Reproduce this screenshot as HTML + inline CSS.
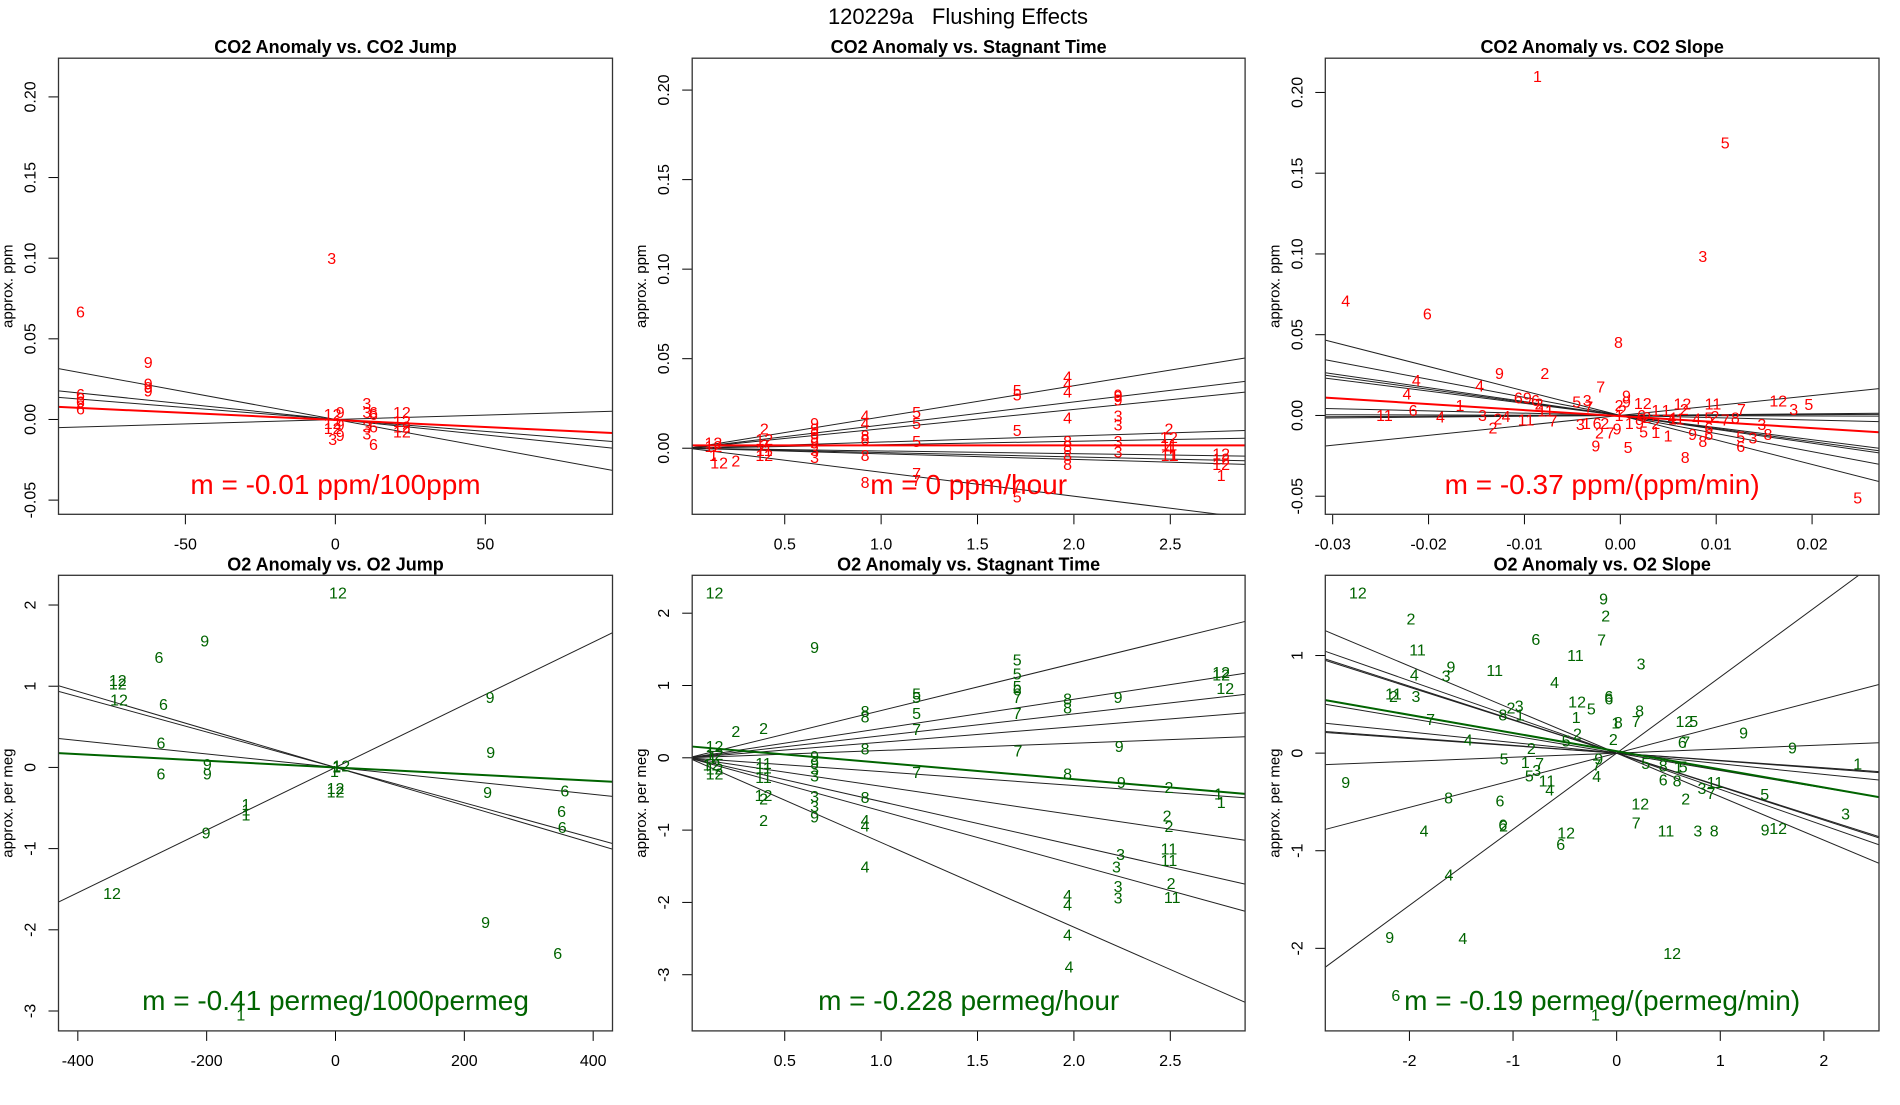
<!DOCTYPE html>
<html><head><meta charset="utf-8"><style>
html,body{margin:0;padding:0;background:#fff;}
svg text{font-family:"Liberation Sans",Arial,sans-serif;}
</style></head><body>
<svg id="chart" width="1900" height="1100" viewBox="0 0 1900 1100" xmlns="http://www.w3.org/2000/svg">
<rect width="1900" height="1100" fill="#fff"/>
<text x="958" y="24" font-size="22" text-anchor="middle" xml:space="preserve" style="white-space:pre">120229a   Flushing Effects</text>
</svg>
<script>
// ---------- Panel 1: CO2 Anomaly vs CO2 Jump ----------
const p1Labels=["6","3","9","9","9","9","6","6","6","6","12","9","12","9","12","3","9","3","3","6","6","3","6","3","6","12","12","12","12"];
const p1X=[-85,-1.2,-62.4,-62.4,-62.4,-62.4,-85,-85,-85,-85,-0.9,1.6,-0.9,1.6,-0.9,-0.9,1.6,10.5,10.5,12.7,12.7,10.5,12.7,10.5,12.7,22.2,22.2,22.2,22.2];
const p1Y=[0.0669,0.100,0.0354,0.0221,0.020,0.0177,0.0155,0.0133,0.0111,0.0066,0.0033,0.0045,-0.0022,-0.0033,-0.0055,-0.0122,-0.0099,0.010,0.0045,0.0045,0.0033,-0.0044,-0.0044,-0.0088,-0.0155,0.0045,-0.001,-0.0044,-0.0077];
const p1Slopes=[0.0000552,-0.000148,-0.000192,-0.000342];
const p1Fit=[-0.0003,-0.0000875];
const p1XTicks=[-50,0,50];
const p1YTicks=[-0.05,0,0.05,0.10,0.15,0.20];
const p1YTickLabels=["-0.05","0.00","0.05","0.10","0.15","0.20"];

// ---------- Panel 2: CO2 Anomaly vs Stagnant Time ----------
const p2Labels=["12","12","12","1","2","2","12","2","11","12","9","9","9","9","9","3","3","4","4","8","8","8","8","5","5","5","7","7","5","5","5","7","5","4","4","4","4","8","8","8","8","9","9","9","3","3","3","3","2","12","11","4","11","1","12","12","12","1"];
const p2X=[0.13,0.13,0.16,0.13,0.246,0.394,0.394,0.394,0.394,0.394,0.655,0.655,0.655,0.655,0.655,0.655,0.655,0.917,0.917,0.917,0.917,0.917,0.917,1.184,1.184,1.184,1.184,1.184,1.706,1.706,1.706,1.706,1.706,1.967,1.967,1.967,1.967,1.967,1.967,1.967,1.967,2.229,2.229,2.229,2.229,2.229,2.229,2.229,2.493,2.493,2.493,2.493,2.493,2.52,2.764,2.764,2.764,2.764];
const p2Y=[0.003,0.001,-0.008,-0.004,-0.007,0.011,0.005,0.002,-0.001,-0.004,0.014,0.011,0.008,0.006,0.003,-0.001,-0.005,0.018,0.014,0.007,0.005,-0.004,-0.019,0.020,0.014,0.004,-0.014,-0.018,0.0325,0.030,0.010,-0.021,-0.027,0.040,0.036,0.0315,0.017,0.004,0.001,-0.004,-0.009,0.030,0.029,0.027,0.018,0.013,0.004,-0.002,0.011,0.006,0.002,0,-0.004,-0.004,-0.003,-0.006,-0.009,-0.015];
const p2Slopes=[0.01745,0.01292,0.01084,0.00343,0.00194,-0.00152,-0.00242,-0.00312,-0.0134];
const p2Fit=[0.0016,0];
const p2XTicks=[0.5,1.0,1.5,2.0,2.5];
const p2XTickLabels=["0.5","1.0","1.5","2.0","2.5"];
const p2YTicks=[0,0.05,0.10,0.15,0.20];
const p2YTickLabels=["0.00","0.05","0.10","0.15","0.20"];

// ---------- Panel 3: CO2 Anomaly vs CO2 Slope ----------
const p3Labels=["1","5","3","4","6","8","9","2","4","4","7","4","6","9","6","2","5","3","7","1","6","11","3","4","4","2","11","11","7","2","3","1","6","2","2","7","9","9","5","5","9","9","2","2","12","1","6","2","1","9","1","1","4","12","2","11","1","1","2","4","5","11","2","7","8","7","9","8","6","6","12","3","5","3","8","5","3","6","8","5"];
const p3X=[-0.00864,0.01094,0.0086,-0.02864,-0.02013,-0.0002,-0.0126,-0.00787,-0.02128,-0.01468,-0.00204,-0.02225,-0.01064,-0.0097,-0.00885,-0.00847,-0.00455,-0.00345,-0.00328,-0.01672,-0.02162,-0.0246,-0.01438,-0.01876,-0.01191,-0.01277,-0.00983,-0.00779,-0.00702,-0.01328,-0.00417,-0.00353,-0.00243,-0.00162,-0.00217,-0.00106,-0.00034,-0.00255,0.00081,0.00243,0.00064,0.00064,-0.00013,0.00021,0.00234,-0.00013,0.00221,0.00277,0.00094,0.002,0.0037,0.00477,0.0054,0.00647,0.00668,0.00583,0.0037,0.00498,0.0037,0.00796,0.00923,0.00966,0.00987,0.01094,0.012,0.01264,0.00753,0.0086,0.00923,0.00923,0.01647,0.01808,0.01966,0.01476,0.0154,0.01255,0.01383,0.01255,0.00677,0.02476];
const p3Y=[0.2101,0.1688,0.0987,0.0710,0.0630,0.0453,0.0261,0.0261,0.0217,0.0184,0.0179,0.0133,0.0111,0.0111,0.0095,0.0073,0.0084,0.0095,0.0055,0.0062,0.0033,0.0002,0,-0.0009,-0.0004,-0.002,-0.0027,0.0029,-0.0033,-0.0077,-0.0055,-0.0049,-0.0049,-0.0049,-0.0108,-0.0108,-0.0082,-0.0188,-0.0197,-0.01,0.0122,0.0084,0.0062,0.0029,0.0077,0.0002,0.0002,-0.0011,-0.0049,-0.0049,0.0033,0.0033,-0.0015,0.0073,0.004,-0.002,-0.0104,-0.0126,-0.0049,-0.002,-0.0015,0.0073,-0.0004,-0.0027,-0.0015,0.004,-0.0115,-0.0159,-0.0077,-0.0115,0.0091,0.004,0.0069,-0.0055,-0.0115,-0.0131,-0.0137,-0.0192,-0.0259,-0.0509];
const p3Slopes=[0.615,0.052,0.026,-0.015,-0.141,-0.752,-0.81,-0.86,-1.12,-1.516];
const p3Fit=[-0.0004,-0.372];
const p3XTicks=[-0.03,-0.02,-0.01,0,0.01,0.02];
const p3XTickLabels=["-0.03","-0.02","-0.01","0.00","0.01","0.02"];
const p3YTicks=[-0.05,0,0.05,0.10,0.15,0.20];
const p3YTickLabels=["-0.05","0.00","0.05","0.10","0.15","0.20"];

// ---------- Panel 4: O2 Anomaly vs O2 Jump ----------
const p4Labels=["12","9","6","12","12","12","6","9","6","9","9","9","6","1","12","1","12","12","1","1","1","9","6","6","6","9","12","9","6","1"];
const p4X=[3.8,-203,-274,-338,-338,-336,-267,240,-271,241,-199,-199,-271,1.7,9,-1.7,0,0,-139,-139,-139,236,356,351,352,-201,-347,233,345,-147];
const p4Y=[2.150,1.557,1.359,1.073,1.029,0.831,0.778,0.866,0.303,0.185,0.040,-0.079,-0.079,0.009,0.022,-0.048,-0.255,-0.299,-0.453,-0.519,-0.585,-0.308,-0.290,-0.541,-0.739,-0.805,-1.552,-1.904,-2.291,-3.047];
const p4Slopes=[0.003857,-0.000828,-0.00218,-0.00234];
const p4Fit=[0,-0.00041];
const p4XTicks=[-400,-200,0,200,400];
const p4YTicks=[-3,-2,-1,0,1,2];

// ---------- Panel 5: O2 Anomaly vs Stagnant Time ----------
const p5Labels=["12","9","5","5","5","6","7","7","5","5","5","7","7","8","8","8","8","4","4","4","2","2","2","12","2","12","12","12","12","12","1","11","11","11","9","9","3","3","3","3","9","7","8","8","8","4","4","4","4","9","9","9","3","3","3","3","2","2","2","11","11","2","11","12","12","12","1","1"];
const p5X=[0.136,0.655,1.706,1.706,1.706,1.706,1.706,1.706,1.184,1.184,1.184,1.184,1.184,0.917,0.917,0.917,0.917,0.917,0.917,0.917,0.246,0.39,0.39,0.39,0.39,0.136,0.136,0.12,0.136,0.136,0.125,0.39,0.39,0.39,0.655,0.655,0.655,0.655,0.655,0.655,0.655,1.71,1.967,1.967,1.967,1.967,1.967,1.967,1.975,2.229,2.235,2.246,2.242,2.221,2.229,2.229,2.493,2.483,2.493,2.493,2.493,2.504,2.51,2.764,2.764,2.785,2.75,2.764];
const p5Y=[2.281,1.531,1.358,1.160,0.988,0.938,0.839,0.617,0.889,0.839,0.617,0.395,-0.198,0.642,0.568,0.123,-0.543,-0.864,-0.938,-1.506,0.370,0.410,-0.864,-0.518,-0.568,0.158,0.049,-0.099,-0.148,-0.222,0,-0.074,-0.138,-0.272,0.025,-0.074,-0.148,-0.247,-0.533,-0.667,-0.815,0.099,0.815,0.691,-0.222,-1.901,-2.035,-2.444,-2.889,0.839,0.158,-0.336,-1.333,-1.506,-1.778,-1.936,-0.405,-0.800,-0.948,-1.259,-1.417,-1.738,-1.926,1.185,1.146,0.963,-0.494,-0.617];
const p5Slopes=[0.653,0.405,0.304,0.2154,0.1008,-0.1915,-0.395,-0.605,-0.735,-1.171];
const p5Fit=[0.16,-0.228];
const p5YTicks=[-3,-2,-1,0,1,2];

// ---------- Panel 6: O2 Anomaly vs O2 Slope ----------
const p6Labels=["12","2","9","2","6","7","11","11","3","9","11","4","3","4","11","2","3","6","6","12","3","2","8","1","5","8","7","1","8","1","7","12","5","9","2","2","4","5","6","7","2","9","5","1","7","9","7","5","8","1","5","1","9","3","5","11","4","6","8","4","11","3","7","5","8","6","12","2","3","6","2","7","4","11","3","8","9","12","12","6","4","9","4","12","6","1"];
const p6X=[-2.497,-1.985,-0.126,-0.106,-0.780,-0.146,-1.922,-0.398,0.236,-1.599,-1.177,-1.953,-1.646,-0.599,-2.154,-2.154,-1.937,-0.075,-0.075,-0.382,-0.941,-1.020,-1.099,-0.933,-0.244,0.221,0.189,-0.390,0.016,-0.008,-1.796,0.654,0.744,1.225,-0.378,-0.032,-1.433,-0.488,0.634,0.666,-0.823,1.697,-1.087,-0.882,-0.744,-0.173,-0.193,0.280,0.449,0.595,0.642,2.327,-2.615,-0.772,-0.843,-0.673,-0.193,0.449,0.583,-0.646,0.949,0.823,0.910,1.429,-1.622,-1.126,0.228,0.666,2.209,-1.099,-1.091,0.189,-1.859,0.476,0.784,0.941,1.433,1.559,-0.488,-0.540,-1.619,-2.190,-1.485,0.536,-2.131,-0.205];
const p6Y=[1.642,1.379,1.580,1.408,1.167,1.160,1.057,1.002,0.915,0.885,0.849,0.801,0.794,0.728,0.611,0.582,0.585,0.582,0.556,0.527,0.483,0.465,0.391,0.391,0.457,0.435,0.326,0.366,0.318,0.311,0.348,0.326,0.326,0.209,0.201,0.143,0.135,0.128,0.110,0.117,0.051,0.055,-0.055,-0.091,-0.102,-0.055,-0.121,-0.102,-0.128,-0.139,-0.139,-0.110,-0.296,-0.176,-0.230,-0.285,-0.238,-0.274,-0.285,-0.377,-0.296,-0.358,-0.413,-0.421,-0.457,-0.487,-0.516,-0.468,-0.622,-0.732,-0.743,-0.713,-0.797,-0.797,-0.797,-0.797,-0.786,-0.772,-0.816,-0.936,-1.247,-1.884,-1.895,-2.048,-2.480,-2.681];
const p6Slopes=[0.78,0.278,0.042,-0.075,-0.079,-0.109,-0.178,-0.338,-0.343,-0.371,-0.446];
const p6Fit=[0.02,-0.186];
const p6XTicks=[-2,-1,0,1,2];
const p6YTicks=[-2,-1,0,1];

const NS="http://www.w3.org/2000/svg";
const svg=document.getElementById('chart');
function mk(tag,attrs,parent){const e=document.createElementNS(NS,tag);for(const k in attrs)e.setAttribute(k,attrs[k]);(parent||svg).appendChild(e);return e;}

function panel(cfg){
  const g=mk('g',{});
  
  
  const L=cfg.box[0],R=cfg.box[1],T=cfg.box[2],B=cfg.box[3];
  const sx=v=>L+(v-cfg.xd[0])/(cfg.xd[1]-cfg.xd[0])*(R-L);
  const sy=v=>B-(v-cfg.yd[0])/(cfg.yd[1]-cfg.yd[0])*(B-T);
  const cid='clip-'+cfg.name;
  const cp=mk('clipPath',{id:cid},g);mk('rect',{x:L,y:T,width:R-L,height:B-T},cp);
  const t=mk('text',{x:(L+R)/2,y:T-5,'font-size':18,'font-weight':'bold','text-anchor':'middle'},g);
  t.textContent=cfg.title;
  
  
  const xa=mk('g',{},g);
  
  
  cfg.xt.forEach((v,i)=>{const x=sx(v);
    mk('line',{x1:x,x2:x,y1:B,y2:B+10,stroke:'#000','stroke-width':1},xa);
    const tl=mk('text',{x:x,y:B+35,'font-size':16,'text-anchor':'middle'},xa);
    tl.textContent=cfg.xtl?cfg.xtl[i]:String(v);
    
    
  });
  const ya=mk('g',{},g);
  
  
  cfg.yt.forEach((v,i)=>{const y=sy(v);
    mk('line',{x1:L-10,x2:L,y1:y,y2:y,stroke:'#000','stroke-width':1},ya);
    const lx=L-23;
    const tl=mk('text',{x:lx,y:y,'font-size':16,'text-anchor':'middle',transform:`rotate(-90 ${lx} ${y})`},ya);
    tl.textContent=cfg.ytl?cfg.ytl[i]:String(v);
    
    
  });
  const ylx=L-cfg.ylOff, yly=(T+B)/2;
  const yl=mk('text',{x:ylx,y:yly,'font-size':15,'text-anchor':'middle',transform:`rotate(-90 ${ylx} ${yly})`},g);
  yl.textContent=cfg.ylab;
  
  
  const lg=mk('g',{'clip-path':`url(#${cid})`},g);
  
  
  cfg.slopes.forEach(m=>{
    const ln=mk('line',{x1:sx(cfg.xd[0]),y1:sy(m*cfg.xd[0]),x2:sx(cfg.xd[1]),y2:sy(m*cfg.xd[1]),stroke:'#222','stroke-width':1},lg);
    
    
  });
  const fl=mk('line',{x1:sx(cfg.xd[0]),y1:sy(cfg.fit[0]+cfg.fit[1]*cfg.xd[0]),x2:sx(cfg.xd[1]),y2:sy(cfg.fit[0]+cfg.fit[1]*cfg.xd[1]),stroke:cfg.color,'stroke-width':2},lg);
  
  
  const pg=mk('g',{},g);
  
  
  cfg.labels.forEach((lab,i)=>{
    const p=mk('text',{x:sx(cfg.xs[i]),y:sy(cfg.ys[i]),dy:'0.36em','font-size':16,fill:cfg.color,'text-anchor':'middle'},pg);
    p.textContent=lab;
    
    
  });
  const an=mk('text',{x:(L+R)/2,y:cfg.annY,'font-size':28,fill:cfg.color,'text-anchor':'middle'},g);
  an.textContent=cfg.ann;
  
  
  mk('rect',{x:L,y:T,width:R-L,height:B-T,fill:'none',stroke:'#333','stroke-width':1.3},g);
}
const RED='#ff0000',GREEN='#006400';
panel({name:'panel-co2-jump',title:'CO2 Anomaly vs. CO2 Jump',box:[58.5,612.5,58.2,514.3],xd:[-92.3,92.4],yd:[-0.0588,0.224],xt:p1XTicks,yt:p1YTicks,ytl:p1YTickLabels,ylab:'approx. ppm',ylOff:46,labels:p1Labels,xs:p1X,ys:p1Y,slopes:p1Slopes,fit:p1Fit,color:RED,ann:'m = -0.01 ppm/100ppm',annY:494});
panel({name:'panel-co2-stagnant',title:'CO2 Anomaly vs. Stagnant Time',box:[692.2,1245.1,58.2,514.3],xd:[0.02,2.888],yd:[-0.0369,0.2178],xt:p2XTicks,xtl:p2XTickLabels,yt:p2YTicks,ytl:p2YTickLabels,ylab:'approx. ppm',ylOff:46,labels:p2Labels,xs:p2X,ys:p2Y,slopes:p2Slopes,fit:p2Fit,color:RED,ann:'m = 0 ppm/hour',annY:494});
panel({name:'panel-co2-slope',title:'CO2 Anomaly vs. CO2 Slope',box:[1325.3,1879,58.2,514.3],xd:[-0.03077,0.02698],yd:[-0.0612,0.2212],xt:p3XTicks,xtl:p3XTickLabels,yt:p3YTicks,ytl:p3YTickLabels,ylab:'approx. ppm',ylOff:46,labels:p3Labels,xs:p3X,ys:p3Y,slopes:p3Slopes,fit:p3Fit,color:RED,ann:'m = -0.37 ppm/(ppm/min)',annY:494});
panel({name:'panel-o2-jump',title:'O2 Anomaly vs. O2 Jump',box:[58.5,612.5,575.3,1030.9],xd:[-430,430],yd:[-3.245,2.366],xt:p4XTicks,yt:p4YTicks,ylab:'approx. per meg',ylOff:46,labels:p4Labels,xs:p4X,ys:p4Y,slopes:p4Slopes,fit:p4Fit,color:GREEN,ann:'m = -0.41 permeg/1000permeg',annY:1010});
panel({name:'panel-o2-stagnant',title:'O2 Anomaly vs. Stagnant Time',box:[692.2,1245.1,575.3,1030.9],xd:[0.02,2.888],yd:[-3.777,2.524],xt:p2XTicks,xtl:p2XTickLabels,yt:p5YTicks,ylab:'approx. per meg',ylOff:46,labels:p5Labels,xs:p5X,ys:p5Y,slopes:p5Slopes,fit:p5Fit,color:GREEN,ann:'m = -0.228 permeg/hour',annY:1010});
panel({name:'panel-o2-slope',title:'O2 Anomaly vs. O2 Slope',box:[1325.3,1879,575.3,1030.9],xd:[-2.812,2.532],yd:[-2.846,1.822],xt:p6XTicks,yt:p6YTicks,ylab:'approx. per meg',ylOff:46,labels:p6Labels,xs:p6X,ys:p6Y,slopes:p6Slopes,fit:p6Fit,color:GREEN,ann:'m = -0.19 permeg/(permeg/min)',annY:1010});
</script>
</body></html>
